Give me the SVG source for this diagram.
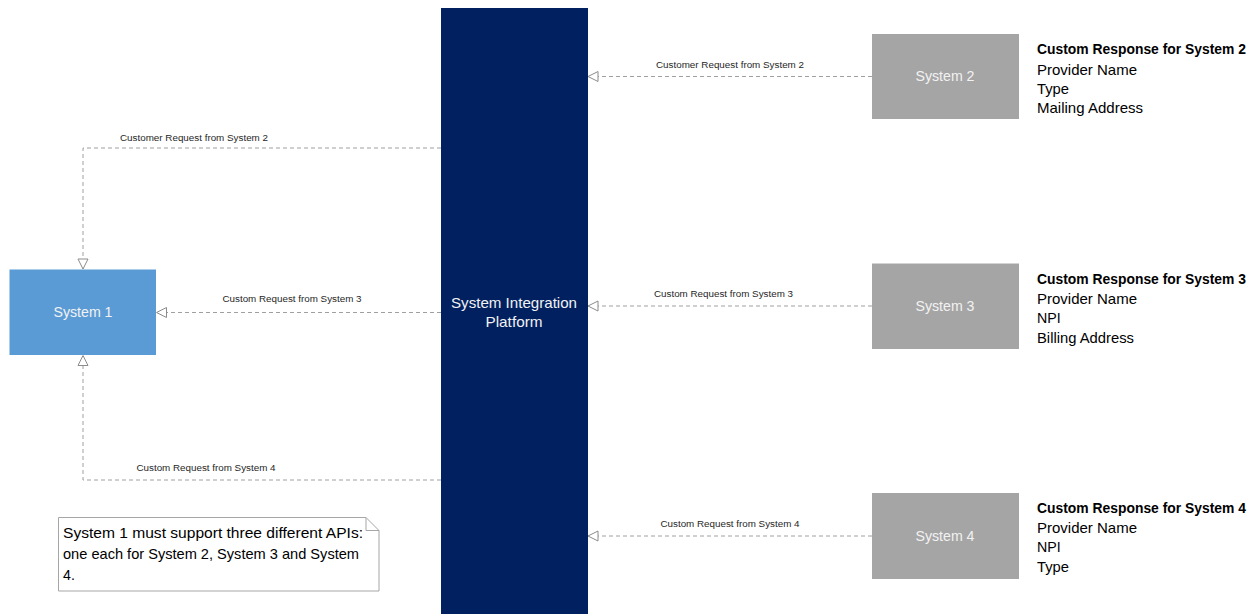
<svg xmlns="http://www.w3.org/2000/svg" width="1257" height="614" viewBox="0 0 1257 614">
<style>
.lbl{font-family:"Liberation Sans",Arial,sans-serif;font-size:8.5px;fill:#262626;text-anchor:middle}
.node{font-family:"Liberation Sans",Arial,sans-serif;font-size:14.2px;fill:#F2F2F2;text-anchor:middle}
.txt{font-family:"Liberation Sans",Arial,sans-serif;font-size:14.2px;fill:#000}
.bold{font-weight:bold}
.conn{fill:none;stroke:#A0A0A0;stroke-width:1;stroke-dasharray:4,3;marker-end:url(#open)}
</style>
<defs>
<marker id="open" markerUnits="userSpaceOnUse" markerWidth="14" markerHeight="12" refX="11" refY="6" orient="auto" viewBox="0 0 14 12">
<path d="M1,1 L11,6 L1,11 Z" fill="#fff" stroke="#8C8C8C" stroke-width="1"/>
</marker>
</defs>
<rect width="1257" height="614" fill="#fff"/>
<g id="platform">
<rect x="441" y="8" width="147" height="610" fill="#002060"/>
<text class="node" x="514" y="308" textLength="126" lengthAdjust="spacingAndGlyphs">System Integration</text>
<text class="node" x="514" y="327" textLength="57" lengthAdjust="spacingAndGlyphs">Platform</text>
</g>
<g id="system1">
<rect x="9.5" y="269.5" width="146.5" height="85.5" fill="#5B9BD5"/>
<text class="node" x="83" y="317" textLength="59" lengthAdjust="spacingAndGlyphs">System 1</text>
</g>
<g id="system2">
<rect x="872" y="34" width="147" height="85" fill="#A5A5A5"/>
<text class="node" x="945" y="81" textLength="59" lengthAdjust="spacingAndGlyphs">System 2</text>
</g>
<g id="system3">
<rect x="872" y="263.5" width="147" height="85.5" fill="#A5A5A5"/>
<text class="node" x="945" y="311" textLength="59" lengthAdjust="spacingAndGlyphs">System 3</text>
</g>
<g id="system4">
<rect x="872" y="493" width="147" height="86" fill="#A5A5A5"/>
<text class="node" x="945" y="541" textLength="59" lengthAdjust="spacingAndGlyphs">System 4</text>
</g>
<g id="resp2">
<text class="txt bold" x="1037" y="54" textLength="209" lengthAdjust="spacingAndGlyphs">Custom Response for System 2</text>
<text class="txt" x="1037" y="75" textLength="100" lengthAdjust="spacingAndGlyphs">Provider Name</text>
<text class="txt" x="1037" y="94" textLength="32" lengthAdjust="spacingAndGlyphs">Type</text>
<text class="txt" x="1037" y="113" textLength="106" lengthAdjust="spacingAndGlyphs">Mailing Address</text>
</g>
<g id="resp3">
<text class="txt bold" x="1037" y="284" textLength="209" lengthAdjust="spacingAndGlyphs">Custom Response for System 3</text>
<text class="txt" x="1037" y="304" textLength="100" lengthAdjust="spacingAndGlyphs">Provider Name</text>
<text class="txt" x="1037" y="323">NPI</text>
<text class="txt" x="1037" y="343" textLength="97" lengthAdjust="spacingAndGlyphs">Billing Address</text>
</g>
<g id="resp4">
<text class="txt bold" x="1037" y="513" textLength="209" lengthAdjust="spacingAndGlyphs">Custom Response for System 4</text>
<text class="txt" x="1037" y="533" textLength="100" lengthAdjust="spacingAndGlyphs">Provider Name</text>
<text class="txt" x="1037" y="552">NPI</text>
<text class="txt" x="1037" y="572" textLength="32" lengthAdjust="spacingAndGlyphs">Type</text>
</g>
<g id="note">
<path d="M58.5,517.5 H366 L379,530.5 V591 H58.5 Z" fill="#fff" stroke="#A6A6A6" stroke-width="1"/>
<path d="M366,517.5 V530.5 H379" fill="none" stroke="#A6A6A6" stroke-width="1"/>
<text class="txt" x="63" y="538" textLength="300" lengthAdjust="spacingAndGlyphs">System 1 must support three different APIs:</text>
<text class="txt" x="63" y="559" textLength="296" lengthAdjust="spacingAndGlyphs">one each for System 2, System 3 and System</text>
<text class="txt" x="63" y="580">4.</text>
</g>
<g id="connectors">
<path class="conn" d="M872,76.5 H588"/>
<path class="conn" d="M872,306 H588"/>
<path class="conn" d="M872,536 H588"/>
<path class="conn" d="M441,148 H83 V269"/>
<path class="conn" d="M441,312.5 H156.5"/>
<path class="conn" d="M441,480 H83 V355.5"/>
<text class="lbl" x="730" y="68" textLength="148" lengthAdjust="spacingAndGlyphs">Customer Request from System 2</text>
<text class="lbl" x="723.5" y="297" textLength="139" lengthAdjust="spacingAndGlyphs">Custom Request from System 3</text>
<text class="lbl" x="730" y="527" textLength="139" lengthAdjust="spacingAndGlyphs">Custom Request from System 4</text>
<text class="lbl" x="194" y="141" textLength="148" lengthAdjust="spacingAndGlyphs">Customer Request from System 2</text>
<text class="lbl" x="292" y="302" textLength="139" lengthAdjust="spacingAndGlyphs">Custom Request from System 3</text>
<text class="lbl" x="206" y="470.5" textLength="139" lengthAdjust="spacingAndGlyphs">Custom Request from System 4</text>
</g>
</svg>
